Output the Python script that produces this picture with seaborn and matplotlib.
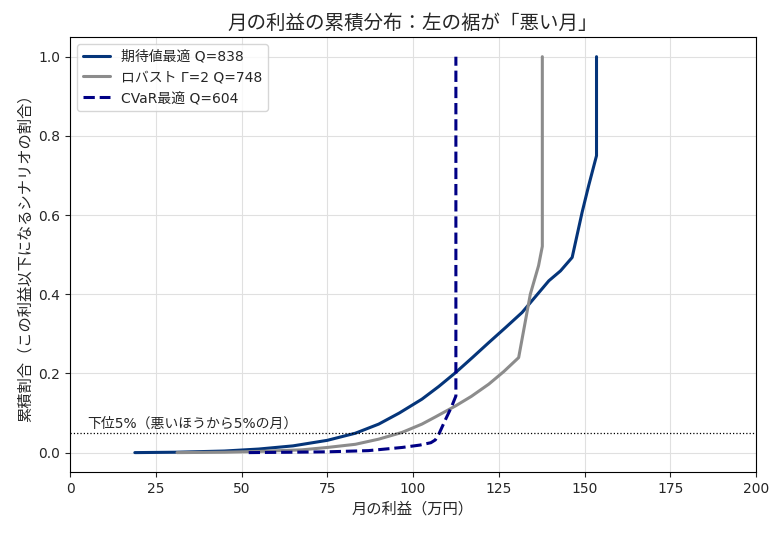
import numpy as np
import pandas as pd
import matplotlib
matplotlib.use("Agg")
import matplotlib.pyplot as plt
import seaborn as sns

# --- data ---
ev_profit = [18.9, 31.0, 45.0, 55.0, 65.0, 75.0, 83.2, 90.0, 96.0, 102.6, 107.5, 112.4,
             117.3, 122.1, 127.0, 131.8, 135.7, 139.6, 143.0, 146.4, 149.3, 151.2, 153.5, 153.5]
ev_cdf = [0.0, 0.001, 0.004, 0.009, 0.017, 0.031, 0.049, 0.072, 0.100, 0.135, 0.167, 0.202,
          0.240, 0.278, 0.316, 0.354, 0.394, 0.434, 0.459, 0.493, 0.607, 0.674, 0.75, 1.0]

rb_profit = [31.2, 45.0, 55.0, 67.6, 75.0, 83.2, 90.0, 96.8, 102.6, 106.5, 112.4, 117.0,
             122.1, 126.5, 130.8, 134.2, 136.6, 137.7, 137.7]
rb_cdf = [0.0, 0.001, 0.003, 0.007, 0.013, 0.021, 0.034, 0.051, 0.072, 0.09, 0.118, 0.142,
          0.173, 0.205, 0.240, 0.40, 0.472, 0.521, 1.0]

cv_profit = [52.1, 65.0, 75.0, 87.0, 96.8, 102.0, 105.2, 106.5, 107.6, 109.5, 111.2, 112.5, 112.5]
cv_cdf = [0.0, 0.001, 0.002, 0.005, 0.013, 0.019, 0.025, 0.032, 0.048, 0.084, 0.115, 0.143, 1.0]

labels = ["期待値最適 Q=838", "ロバスト Γ=2 Q=748", "CVaR最適 Q=604"]
tail_level = 0.05

sns.set_style("ticks")
plt.rcParams['font.family'] = ['DejaVu Sans', 'Noto Sans CJK JP']
plt.rcParams['axes.unicode_minus'] = False

fig, ax = plt.subplots(figsize=(7.84, 5.35), dpi=100)
fig.subplots_adjust(left=0.0893, right=0.9643, top=0.931, bottom=0.117)

series = [
    (ev_profit, ev_cdf, labels[0], "#05357a", "-"),
    (rb_profit, rb_cdf, labels[1], "#8c8c8c", "-"),
    (cv_profit, cv_cdf, labels[2], "#000085", "--"),
]
for xs, ys, lab, col, ls in series:
    df = pd.DataFrame({"profit": xs, "cdf": ys})
    sns.lineplot(data=df, x="profit", y="cdf", ax=ax, sort=False, estimator=None,
                 color=col, linestyle=ls, linewidth=2.2, label=lab)

ax.axhline(tail_level, color="black", linestyle=":", linewidth=0.9)
ax.text(5, tail_level + 0.006, "下位5%（悪いほうから5%の月）", fontsize=10, va="bottom", ha="left")

ax.set_xlim(0, 200)
ax.set_ylim(-0.05, 1.05)
ax.set_xticks([0, 25, 50, 75, 100, 125, 150, 175, 200])
ax.set_yticks([0.0, 0.2, 0.4, 0.6, 0.8, 1.0])
ax.set_yticklabels(["0.0", "0.2", "0.4", "0.6", "0.8", "1.0"])
ax.tick_params(labelsize=10)
ax.grid(True, color="#e0e0e0", linewidth=0.8)
for s in ax.spines.values():
    s.set_visible(True)
    s.set_color("black")

ax.set_title("月の利益の累積分布：左の裾が「悪い月」", fontsize=14)
ax.set_xlabel("月の利益（万円）", fontsize=11)
ax.set_ylabel("累積割合（この利益以下になるシナリオの割合）", fontsize=11)
ax.legend(loc="upper left", fontsize=10, frameon=True)

fig.savefig("out.png", dpi=100)
